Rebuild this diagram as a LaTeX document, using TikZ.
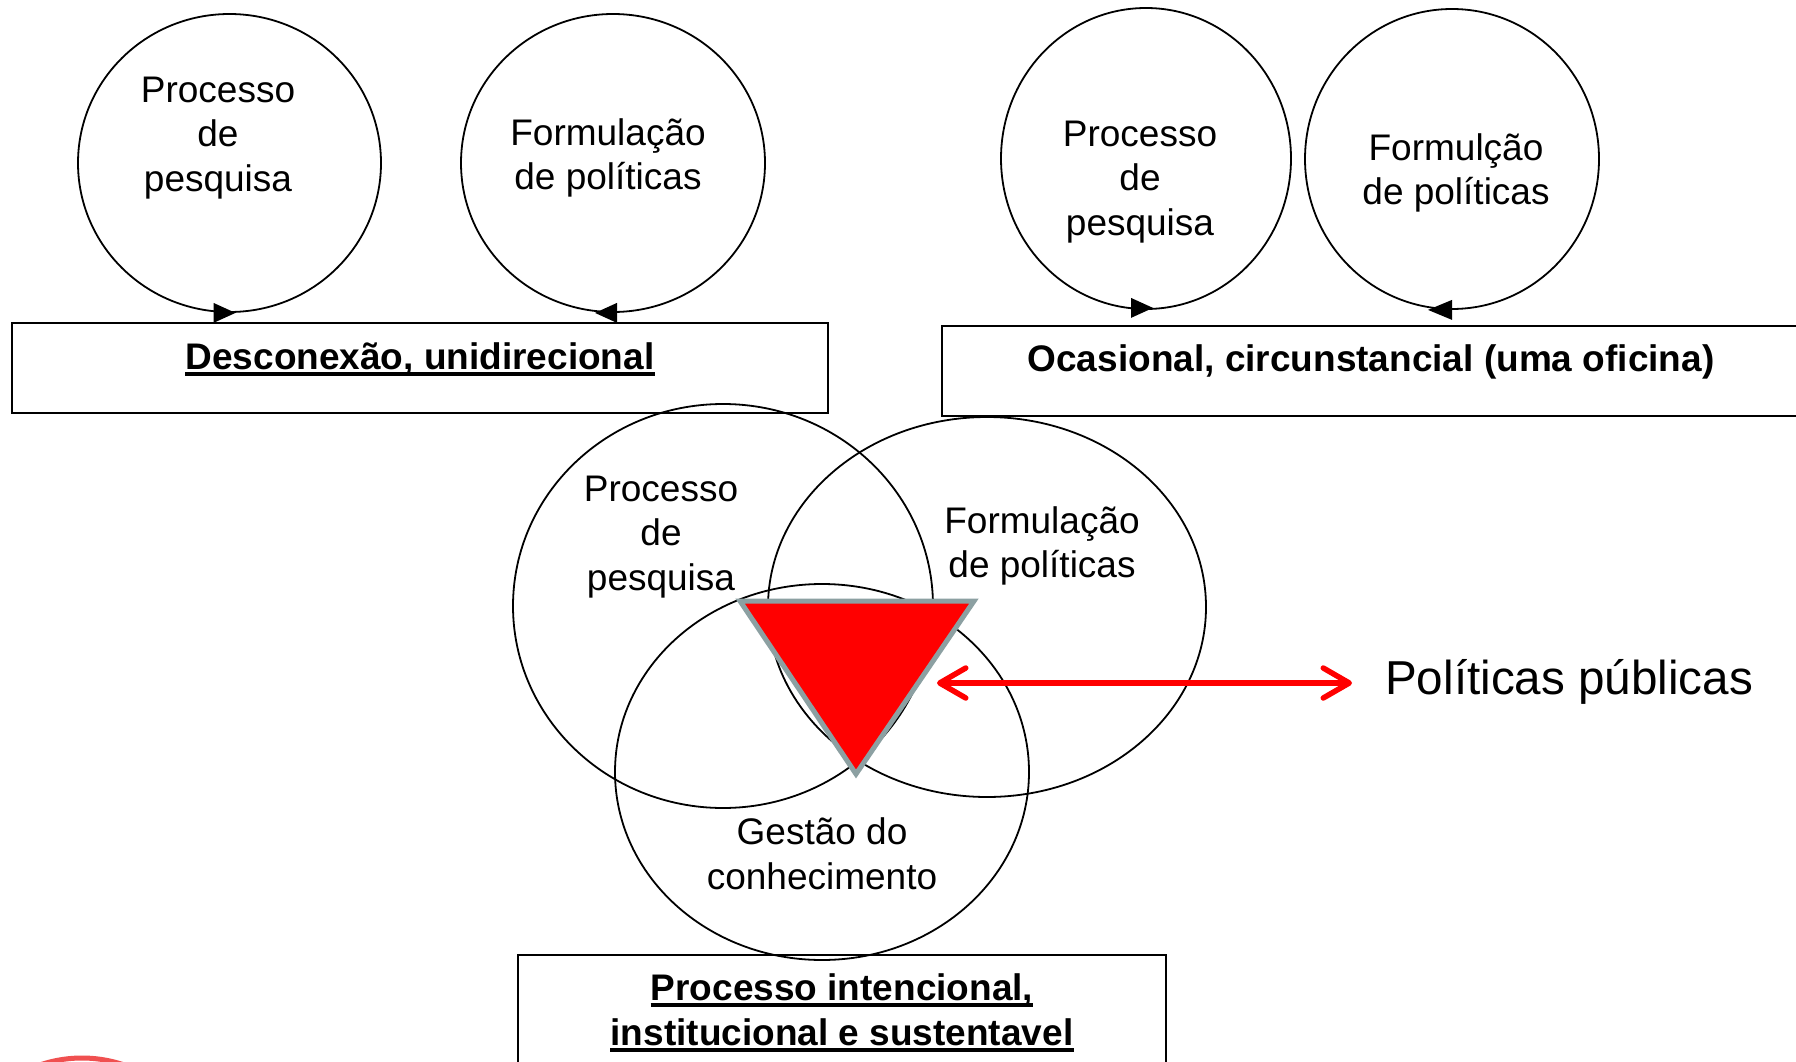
\documentclass[tikz,border=0pt]{standalone}
\usepackage{fontspec}
\setmainfont{Liberation Sans}
\usetikzlibrary{arrows.meta,shapes.geometric}
\definecolor{trigray}{RGB}{140,160,162}
\definecolor{arcred}{RGB}{240,80,80}
\begin{document}
\begin{tikzpicture}[x=1pt,y=-1pt,
  circ/.style={draw, ellipse, inner sep=0pt, line width=1.8pt},
  lbl/.style={align=center, font=\fontsize{37}{44.5}\selectfont, inner sep=0pt},
  boxr/.style={draw, rectangle, line width=1.8pt, inner sep=0pt},
  btxt/.style={font=\fontsize{37}{44.5}\selectfont\bfseries, inner sep=0pt},
  uline/.style={line width=3.5pt},
  head/.style={fill=black},
  tri/.style={fill=red, draw=trigray, line width=5pt, line join=miter},
  dbl/.style={draw=red, line width=5.5pt, line cap=round,
    {Straight Barb[length=26pt,width=30pt,round]}-{Straight Barb[length=26pt,width=30pt,round]}}
]
\clip (0,0) rectangle (1796,1062);
\fill[white] (0,0) rectangle (1796,1062);

% top-left pair
\node[circ, minimum width=303pt, minimum height=298pt] (c1) at (229.5,163) {};
\node[circ, minimum width=304pt, minimum height=298pt] (c2) at (613,163) {};
\fill[head] ([xshift=6pt]c1.south) -- ++(-22,-10) -- ++(0,20) -- cycle;
\fill[head] ([xshift=-18pt]c2.south) -- ++(22,-10) -- ++(0,20) -- cycle;
\node[lbl] (t1) at (218,138) {Processo\\de\\pesquisa};
\node[lbl] (t2) at (608,158) {Formulação\\de políticas};
\node[boxr, minimum width=816pt, minimum height=90pt] (b1) at (420,368) {};
\node[btxt, anchor=base] (b1t) at (420,369) {Desconexão, unidirecional};
\draw[uline] ([yshift=-5pt]b1t.base west) -- ([yshift=-5pt]b1t.base east);

% top-right pair
\node[circ, minimum width=290pt, minimum height=301pt] (c3) at (1146,158.5) {};
\node[circ, minimum width=294pt, minimum height=300pt] (c4) at (1452,159) {};
\fill[head] ([xshift=7pt,yshift=2pt]c3.south) -- ++(-22,-10) -- ++(0,20) -- cycle;
\fill[head] ([xshift=-24pt]c4.south) -- ++(24,-10) -- ++(0,20) -- cycle;
\node[lbl] (t3) at (1140,182) {Processo\\de\\pesquisa};
\node[lbl] (t4) at (1456,173) {Formulção\\de políticas};
\node[boxr, minimum width=888pt, minimum height=90pt] (b2) at (1386,371) {};
\node[btxt, anchor=base] (b2t) at (1371,371) {Ocasional, circunstancial (uma oficina)};

% bottom Venn
\node[circ, minimum width=420pt, minimum height=404pt] (cA) at (723,606) {};
\node[circ, minimum width=438pt, minimum height=380pt] (cB) at (987,607) {};
\node[circ, minimum width=414pt, minimum height=376pt] (cC) at (822,772) {};
\node[lbl] (tA) at (661,537) {Processo\\de\\pesquisa};
\node[lbl] (tB) at (1042,546) {Formulação\\de políticas};
\node[lbl] (tC) at (822,854) {Gestão do\\conhecimento};

\coordinate (v1) at (740,601);
\coordinate (v2) at (974,601);
\coordinate (v3) at (856,774);
\filldraw[tri] (v1) -- (v2) -- (v3) -- cycle;

\node[font=\fontsize{47.6}{57}\selectfont, inner sep=0pt, anchor=base west] (pp) at (1385,694) {Políticas públicas};
\coordinate (al) at (937,683);
\coordinate (ar) at (1352,683);
\draw[dbl] (al) -- (ar);

\node[boxr, minimum width=648pt, minimum height=165pt] (b3) at (842,1037.5) {};
\node[btxt, anchor=base] (b3a) at (842,1000) {Processo intencional,};
\node[btxt, anchor=base] (b3b) at (842,1045) {institucional e sustentavel};
\draw[uline] ([yshift=-5pt]b3a.base west) -- ([yshift=-5pt]b3a.base east);
\draw[uline] ([yshift=-5pt]b3b.base west) -- ([yshift=-5pt]b3b.base east);

% partial logo arc at bottom-left
\draw[arcred, line width=5pt] (82,1188) circle[radius=130pt];
\end{tikzpicture}
\end{document}
